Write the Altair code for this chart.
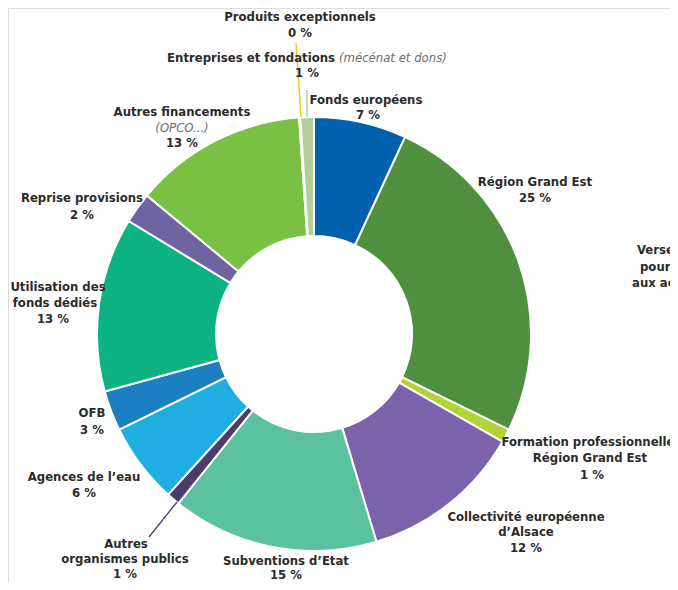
import altair as alt
import pandas as pd

# ---- data ----
categories = [
    "Fonds européens", "Région Grand Est", "Formation professionnelle Région Grand Est",
    "Collectivité européenne d'Alsace", "Subventions d'Etat", "Autres organismes publics",
    "Agences de l'eau", "OFB", "Utilisation des fonds dédiés", "Reprise provisions",
    "Autres financements", "Produits exceptionnels", "Entreprises et fondations",
]
values = [6.9, 25.4, 1.0, 12.1, 15.4, 1.0, 6.0, 3.0, 13.0, 2.3, 12.9, 0.1, 1.0]
colors = [
    "#0062ae", "#4f8f3f", "#b2d235", "#7b62aa", "#5bc1a0", "#4c3c6c",
    "#20ade2", "#1b7fc1", "#0db282", "#6e64a0", "#7ac143", "#f5c400", "#b3cf99",
]
pct_labels = ["7 %", "25 %", "1 %", "12 %", "15 %", "1 %", "6 %", "3 %", "13 %", "2 %", "13 %", "0 %", "1 %"]

df = pd.DataFrame({"cat": categories, "value": values, "order": list(range(len(values)))})

# ---- layout (page coords minus 8px margin) ----
M = 8
CX, CY = 314 - M, 334 - M

label_rows = [
    # text, x, y, style, align
    ("Produits exceptionnels", 300, 17, "b", "center"),
    (pct_labels[11], 300, 33, "b", "center"),
    ("Entreprises et fondations", 335, 58, "b", "right"),
    ("(mécénat et dons)", 339, 58, "i", "left"),
    (pct_labels[12], 307, 73, "b", "center"),
    ("Fonds européens", 366, 100, "b", "center"),
    (pct_labels[0], 368, 115, "b", "center"),
    ("Région Grand Est", 535, 182, "b", "center"),
    (pct_labels[1], 535, 198, "b", "center"),
    ("Versements", 637, 250, "b", "left"),
    ("pour services", 640, 267, "b", "left"),
    ("aux actions", 632, 283, "b", "left"),
    ("Formation professionnelle", 588, 442, "b", "center"),
    ("Région Grand Est", 590, 458, "b", "center"),
    (pct_labels[2], 592, 475, "b", "center"),
    ("Collectivité européenne", 526, 517, "b", "center"),
    ("d’Alsace", 526, 532, "b", "center"),
    (pct_labels[3], 526, 548, "b", "center"),
    ("Subventions d’Etat", 286, 561, "b", "center"),
    (pct_labels[4], 286, 575, "b", "center"),
    ("Autres", 126, 544, "b", "center"),
    ("organismes publics", 125, 559, "b", "center"),
    (pct_labels[5], 125, 574, "b", "center"),
    ("Agences de l’eau", 84, 477, "b", "center"),
    (pct_labels[6], 84, 493, "b", "center"),
    ("OFB", 92, 413, "b", "center"),
    (pct_labels[7], 92, 430, "b", "center"),
    ("Utilisation des", 58, 287, "b", "center"),
    ("fonds dédiés", 55, 303, "b", "center"),
    (pct_labels[8], 53, 319, "b", "center"),
    ("Reprise provisions", 82, 198, "b", "center"),
    (pct_labels[9], 82, 215, "b", "center"),
    ("Autres financements", 182, 112, "b", "center"),
    ("(OPCO...)", 182, 128, "i", "center"),
    (pct_labels[10], 182, 143, "b", "center"),
]
labels = pd.DataFrame(label_rows, columns=["text", "x", "y", "style", "align"])
labels["x"] = labels["x"] - M
labels["y"] = labels["y"] - M

leaders = pd.DataFrame({
    "x": [296, 307, 149], "y": [43, 90, 537],
    "x2": [301, 307, 177], "y2": [117, 117, 502],
    "c": ["#f2c300", "#a9c98f", "#4c3c6c"],
})
for col in ["x", "y", "x2", "y2"]:
    leaders[col] = leaders[col] - M

FONT = "DejaVu Sans Condensed, Liberation Sans Narrow, Arial Narrow, sans-serif"

arcs = alt.Chart(df).mark_arc(innerRadius=98, outerRadius=217, stroke="white", strokeWidth=2).encode(
    theta=alt.Theta("value:Q", stack=True),
    color=alt.Color("cat:N", scale=alt.Scale(domain=categories, range=colors), legend=None),
    order=alt.Order("order:Q"),
    x=alt.value(CX),
    y=alt.value(CY),
)

rules = alt.Chart(leaders).mark_rule(strokeWidth=1.3).encode(
    x=alt.X("x:Q", scale=None, axis=None), y=alt.Y("y:Q", scale=None, axis=None),
    x2="x2:Q", y2="y2:Q",
    color=alt.Color("c:N", scale=None),
)

layers = [arcs, rules]
for style in ["b", "i"]:
    for align in ["center", "left", "right"]:
        sub = labels[(labels["style"] == style) & (labels["align"] == align)]
        if len(sub) == 0:
            continue
        mk = dict(font=FONT, fontSize=13, align=align, baseline="middle")
        if style == "b":
            mk.update(fontWeight="bold", color="#2b2b2b")
        else:
            mk.update(fontStyle="italic", fontWeight="normal", color="#6d6d6d")
        layers.append(
            alt.Chart(sub).mark_text(**mk).encode(
                x=alt.X("x:Q", scale=None, axis=None),
                y=alt.Y("y:Q", scale=None, axis=None),
                text="text:N",
            )
        )

chart = alt.layer(*layers).properties(
    width=662, height=574, padding=0, autosize=alt.AutoSizeParams(type="none")
).configure_view(strokeWidth=0, stroke="transparent").configure(background="white")

chart.save("out.html", embed_options={"renderer": "svg", "actions": False})
